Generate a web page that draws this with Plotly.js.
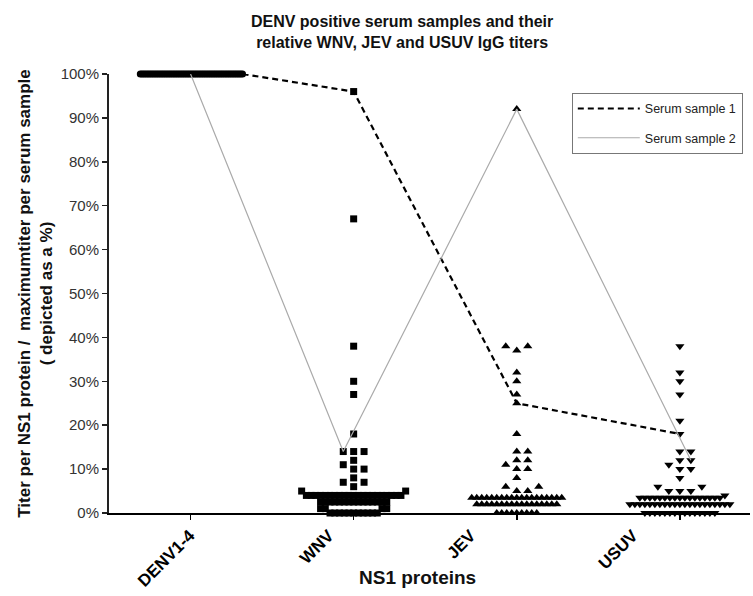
<!DOCTYPE html>
<html>
<head>
<meta charset="utf-8">
<script src="https://cdn.plot.ly/plotly-3.0.1.min.js"></script>
<style>html,body{margin:0;padding:0;background:#fff;}#chart{width:753px;height:596px;}</style>
</head>
<body>
<div id="chart"></div>
<script>
// ---------- data (% of max titer) ----------
const categories = ['DENV1-4', 'WNV', 'JEV', 'USUV'];
const yTickVals = [0, 10, 20, 30, 40, 50, 60, 70, 80, 90, 100];
const yTickText = ['0%', '10%', '20%', '30%', '40%', '50%', '60%', '70%', '80%', '90%', '100%'];

const denv = [100,100,100,100,100,100,100,100,100,100,100,100,100,100,100,100,100,100,100,100,
              100,100,100,100,100,100,100,100,100,100,100,100,100,100,100,100,100,100,100,100,
              100,100,100,100,100,100,100,100,100,100,100,100,100,100,100,100,100,100,100,100];
const wnv = [96, 67, 38, 30, 27, 18, 14, 14, 14, 12, 11, 10, 10, 8, 7, 7, 6,
             5, 5,
             4, 4, 4, 4, 4, 4, 4, 4, 4, 4, 4, 4, 4, 4, 4, 4, 4, 4, 4, 4, 4,
             2.5, 2.5, 2.5, 2.5, 2.5, 2.5, 2.5, 2.5, 2.5, 2.5, 2.5, 2.5, 2.5, 2.5, 2.5,
             1, 1, 1, 1,
             0, 0, 0, 0, 0, 0, 0, 0, 0, 0, 0];
const jev = [92, 38, 37, 38, 32, 30, 27, 25, 18, 14, 14, 12, 12, 11, 10, 10, 8, 6, 6, 5, 5,
             3.5, 3.5, 3.5, 3.5, 3.5, 3.5, 3.5, 3.5, 3.5, 3.5, 3.5, 3.5, 3.5, 3.5, 3.5, 3.5, 3.5, 3.5, 3.5,
             2, 2, 2, 2, 2, 2, 2, 2, 2, 2, 2, 2, 2, 2, 2, 2, 2,
             0, 0, 0, 0, 0, 0, 0, 0, 0];
const usuv = [38, 32, 30, 27, 21, 18, 14, 14, 12, 12, 11, 10, 10, 8, 6, 6, 5, 5, 5, 4,
              3.5, 3.5, 3.5, 3.5, 3.5, 3.5, 3.5, 3.5, 3.5, 3.5, 3.5, 3.5, 3.5, 3.5, 3.5, 3.5, 3.5,
              2, 2, 2, 2, 2, 2, 2, 2, 2, 2, 2, 2, 2, 2, 2, 2, 2, 2, 2, 2, 2,
              0, 0, 0, 0, 0, 0, 0, 0, 0, 0, 0, 0, 0, 0, 0];
const columns = [denv, wnv, jev, usuv];

// which serum sample is which point in each column (index into the column arrays)
const sample1Name = 'Serum sample 1';
const sample2Name = 'Serum sample 2';
const sample1Idx = [59, 0, 7, 5];
const sample2Idx = [0, 8, 0, 9];

// ---------- layout constants ----------
const W = 753, H = 596;
const M = {l: 109, r: 3, t: 74, b: 83};
const XR = [-0.5, 3.43];
const YR = [0, 100];
const PX = (W - M.l - M.r) / (XR[1] - XR[0]);   // px per category unit
const PY = (H - M.t - M.b) / (YR[1] - YR[0]);   // px per %
const CY = 6;          // vertical collision distance (px)
const DENSE_N = 8;     // neighbours above which points are packed tightly
const W_DENSE = 5, W_SPARSE = 11, MAXHALF = 52;
const LABEL_SHIFT = [-0.006, -0.153, -0.283, -0.288];  // where the rotated category labels sit

// beeswarm spread of one column (x positions computed from the values)
function swarm(vals, ci) {
  const n = vals.length;
  const ypx = vals.map(v => v * PY);
  const w = ypx.map(y => ypx.filter(z => Math.abs(z - y) < CY).length >= DENSE_N ? W_DENSE : W_SPARSE);
  const order = [...Array(n).keys()].sort((a, b) => vals[a] - vals[b]);
  const off = new Array(n);
  const placed = [];
  for (const i of order) {
    for (let k = 0; ; k++) {
      const c = k === 0 ? 0 : (k % 2 ? 1 : -1) * Math.ceil(k / 2);
      const ok = placed.every(j => Math.abs(ypx[j] - ypx[i]) >= CY || Math.abs(off[j] - c) >= (w[i] + w[j]) / 2);
      if (ok) { off[i] = c; placed.push(i); break; }
    }
  }
  const m = Math.max(...off.map(Math.abs));
  const s = m > MAXHALF ? MAXHALF / m : 1;
  return off.map(o => ci + o * s / PX);
}
function median(a) {
  const s = [...a].sort((p, q) => p - q), n = s.length;
  return n % 2 ? s[(n - 1) / 2] : (s[n / 2 - 1] + s[n / 2]) / 2;
}

const xs = columns.map((c, i) => swarm(c, i));
const symbols = ['circle', 'square', 'triangle-up', 'triangle-down'];
const sizes = [7, 7, 8, 8];

const traces = [];
// median lines
columns.forEach((c, i) => {
  const md = median(c);
  traces.push({x: [i - 0.25, i + 0.25], y: [md, md], mode: 'lines', type: 'scatter',
    line: {color: '#222', width: 1}, showlegend: false, hoverinfo: 'skip', cliponaxis: false});
});
// points
columns.forEach((c, i) => {
  traces.push({x: xs[i], y: c, mode: 'markers', type: 'scatter', name: categories[i],
    marker: {symbol: symbols[i], size: sizes[i], color: '#000'}, showlegend: false, cliponaxis: false});
});
// sample lines
traces.push({x: sample1Idx.map((k, i) => xs[i][k]), y: sample1Idx.map((k, i) => columns[i][k]),
  mode: 'lines', type: 'scatter', name: sample1Name, legendgroup: 'a',
  line: {color: '#000', width: 2.2, dash: '6px,4px'}, cliponaxis: false});
traces.push({x: sample2Idx.map((k, i) => xs[i][k]), y: sample2Idx.map((k, i) => columns[i][k]),
  mode: 'lines', type: 'scatter', name: sample2Name, legendgroup: 'b',
  line: {color: '#aaaaaa', width: 1.2}, cliponaxis: false});
// carrier for the category-label axis
traces.push({x: [XR[0]], y: [null], xaxis: 'x2', yaxis: 'y', mode: 'markers', showlegend: false,
  hoverinfo: 'skip', marker: {opacity: 0}});

const FONT = 'Arial, "Liberation Sans", sans-serif';
const layout = {
  width: W, height: H,
  margin: M,
  paper_bgcolor: '#fff', plot_bgcolor: '#fff',
  font: {family: FONT, color: '#000'},
  title: {text: '<b>DENV positive serum samples and their<br>relative WNV, JEV and USUV IgG titers</b>',
    font: {size: 16, family: FONT, color: '#111'}, x: 0.534, xref: 'container', xanchor: 'center',
    y: 0.955, yref: 'container', yanchor: 'top'},
  xaxis: {range: XR, tickvals: [0, 1, 2, 3], ticktext: categories, showticklabels: false,
    showgrid: false, zeroline: false, showline: true, linecolor: '#000', linewidth: 2,
    ticks: 'outside', ticklen: 5, tickwidth: 1.5, tickcolor: '#000'},
  xaxis2: {range: XR, overlaying: 'x', anchor: 'y', side: 'bottom',
    tickvals: categories.map((c, i) => i + LABEL_SHIFT[i]), ticktext: categories, tickangle: -45,
    showgrid: false, zeroline: false, showline: false,
    ticks: 'outside', ticklen: 5, tickcolor: 'rgba(0,0,0,0)',
    tickfont: {size: 17, family: FONT, color: '#000', weight: 'bold'}},
  yaxis: {range: YR, tickvals: yTickVals, ticktext: yTickText,
    showgrid: false, zeroline: false, showline: true, linecolor: '#222', linewidth: 2,
    ticks: 'outside', ticklen: 5, tickwidth: 1.5, tickcolor: '#222',
    tickfont: {size: 15, family: FONT, color: '#333'},
    title: {text: '<b>Titer per NS1 protein /  maximumtiter per serum sample<br>( depicted as a %)</b>',
      font: {size: 17, family: FONT, color: '#111'}, standoff: 4}},
  annotations: [{text: '<b>NS1 proteins</b>', xref: 'paper', yref: 'paper',
    x: (417 - 109) / 641, y: (513 - 577) / 439, xanchor: 'center', yanchor: 'middle', showarrow: false,
    font: {size: 19, family: FONT, color: '#111'}}],
  legend: {x: 0.722, y: 0.957, xanchor: 'left', yanchor: 'top', bgcolor: '#fff',
    bordercolor: '#777', borderwidth: 1, font: {size: 12.5, family: FONT, color: '#222'},
    tracegroupgap: 10, itemwidth: 62},
  showlegend: true
};
Plotly.newPlot('chart', traces, layout, {displayModeBar: false, staticPlot: true});
</script>
</body>
</html>
